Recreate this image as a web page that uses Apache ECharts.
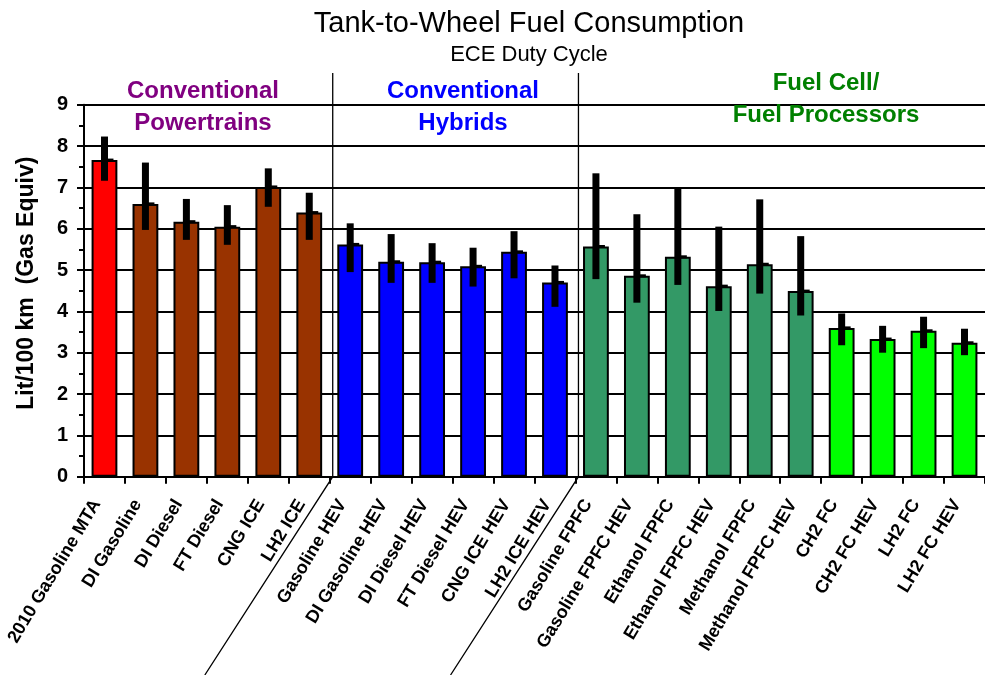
<!DOCTYPE html>
<html>
<head>
<meta charset="utf-8">
<title>Tank-to-Wheel Fuel Consumption</title>
<script src="https://cdn.jsdelivr.net/npm/echarts@6/dist/echarts.min.js"></script>
<style>
  html, body { margin: 0; padding: 0; background: #fff; }
  #main { width: 985px; height: 675px; }
</style>
</head>
<body>
<div id="main"></div>
<script>
// categories (vehicle / fuel pathway)
var categories = [
  '2010 Gasoline MTA', 'DI Gasoline', 'DI Diesel', 'FT Diesel', 'CNG ICE', 'LH2 ICE',
  'Gasoline HEV', 'DI Gasoline HEV', 'DI Diesel HEV', 'FT Diesel HEV', 'CNG ICE HEV', 'LH2 ICE HEV',
  'Gasoline FPFC', 'Gasoline FPFC HEV', 'Ethanol FPFC', 'Ethanol FPFC HEV', 'Methanol FPFC', 'Methanol FPFC HEV',
  'CH2 FC', 'CH2 FC HEV', 'LH2 FC', 'LH2 FC HEV'
];
// Lit/100 km (gas equiv)
var values = [7.66, 6.60, 6.17, 6.05, 7.01, 6.39,
              5.62, 5.20, 5.19, 5.09, 5.44, 4.70,
              5.57, 4.86, 5.32, 4.61, 5.14, 4.49,
              3.60, 3.33, 3.53, 3.24];
var errLow  = [7.16, 5.97, 5.73, 5.61, 6.53, 5.73,
               4.95, 4.69, 4.69, 4.60, 4.80, 4.11,
               4.78, 4.21, 4.64, 4.01, 4.43, 3.90,
               3.18, 3.00, 3.11, 2.94];
var errHigh = [8.23, 7.60, 6.72, 6.57, 7.46, 6.87,
               6.13, 5.87, 5.65, 5.54, 5.94, 5.11,
               7.34, 6.35, 6.96, 6.05, 6.71, 5.82,
               3.95, 3.65, 3.87, 3.58];
var yTicks = [0, 9, 1];

function barColor(i) {
  if (i === 0) return '#FF0000';
  if (i < 6) return '#993300';
  if (i < 12) return '#0000FF';
  if (i < 18) return '#339966';
  return '#00FF00';
}

var chart = echarts.init(document.getElementById('main'));

var barData = values.map(function (v, i) {
  return { value: v, itemStyle: { color: barColor(i) } };
});
var errData = values.map(function (v, i) {
  return [i, errLow[i], errHigh[i], v];
});

var option = {
  animation: false,
  textStyle: { fontFamily: 'Liberation Sans, Arial, sans-serif' },
  title: {
    text: 'Tank-to-Wheel Fuel Consumption',
    subtext: 'ECE Duty Cycle',
    left: 524,
    textAlign: 'center',
    top: 4,
    itemGap: 6,
    textStyle: { fontSize: 29, fontWeight: 'normal', color: '#000' },
    subtextStyle: { fontSize: 22, color: '#000' }
  },
  grid: { left: 84, top: 104.7, bottom: 198.3, right: -10, containLabel: false },
  xAxis: {
    type: 'category',
    data: categories,
    axisLine: { lineStyle: { color: '#000', width: 2 } },
    axisTick: { show: true, length: 7, lineStyle: { color: '#000', width: 2 }, interval: 0 },
    axisLabel: {
      interval: 0, rotate: 59, margin: 29, verticalAlign: 'bottom',
      fontSize: 18, fontWeight: 'bold', color: '#000'
    },
    splitLine: { show: false }
  },
  yAxis: {
    type: 'value',
    min: yTicks[0], max: yTicks[1], interval: yTicks[2],
    name: 'Lit/100 km  (Gas Equiv)',
    nameLocation: 'middle',
    nameRotate: 90,
    nameGap: 46,
    nameTextStyle: { fontSize: 23, fontWeight: 'bold', color: '#000', padding: [0, 0, 0, 15] },
    axisLine: { show: true, lineStyle: { color: '#000', width: 2 } },
    axisTick: { show: true, length: 7, lineStyle: { color: '#000', width: 2 } },
    minorTick: { show: true, splitNumber: 2, length: 5, lineStyle: { color: '#000', width: 2 } },
    axisLabel: { fontSize: 20, fontWeight: 'bold', color: '#000', margin: 16 },
    splitLine: { show: true, lineStyle: { color: '#000', width: 2 } }
  },
  series: [
    {
      type: 'bar',
      data: barData,
      barWidth: '63%',
      itemStyle: { borderColor: '#000', borderWidth: 2 },
      z: 2
    },
    {
      type: 'custom',
      data: errData,
      z: 5,
      renderItem: function (params, api) {
        var x = api.coord([api.value(0), 0])[0];
        var lo = api.coord([api.value(0), api.value(1)])[1];
        var hi = api.coord([api.value(0), api.value(2)])[1];
        var mid = api.coord([api.value(0), api.value(3)])[1];
        return {
          type: 'group',
          children: [
            { type: 'rect', shape: { x: x - 3.5, y: hi, width: 7, height: lo - hi },
              style: { fill: '#000' } },
            { type: 'line', shape: { x1: x, y1: mid, x2: x + 9, y2: mid },
              style: { stroke: '#000', lineWidth: 3 } }
          ]
        };
      }
    }
  ]
};
chart.setOption(option);

// group separators and group labels
function boundary(i) {
  var a = chart.convertToPixel({ xAxisIndex: 0 }, i - 1);
  var b = chart.convertToPixel({ xAxisIndex: 0 }, i);
  return (a + b) / 2 + 3;
}
var axisY = chart.convertToPixel({ yAxisIndex: 0 }, 0);
var slope = 0.645;
var graphics = [];
[6, 12].forEach(function (k) {
  var bx = boundary(k);
  graphics.push({
    type: 'polyline', z: 10,
    shape: { points: [[bx, 73], [bx, axisY], [bx - (675 - axisY) * slope, 675]] },
    style: { stroke: '#000', lineWidth: 1.3, fill: null }
  });
});
var groupLabels = [
  { x: 203, lines: ['Conventional', 'Powertrains'], y: [91, 123], color: '#800080' },
  { x: 463, lines: ['Conventional', 'Hybrids'], y: [91, 123], color: '#0000FF' },
  { x: 826, lines: ['Fuel Cell/', 'Fuel Processors'], y: [83, 115], color: '#008000' }
];
groupLabels.forEach(function (g) {
  g.lines.forEach(function (t, j) {
    graphics.push({
      type: 'text', z: 10,
      style: {
        text: t, x: g.x, y: g.y[j], textAlign: 'center', textVerticalAlign: 'middle',
        font: 'bold 24px "Liberation Sans", Arial, sans-serif', fill: g.color
      }
    });
  });
});
chart.setOption({ graphic: graphics });
</script>
</body>
</html>
